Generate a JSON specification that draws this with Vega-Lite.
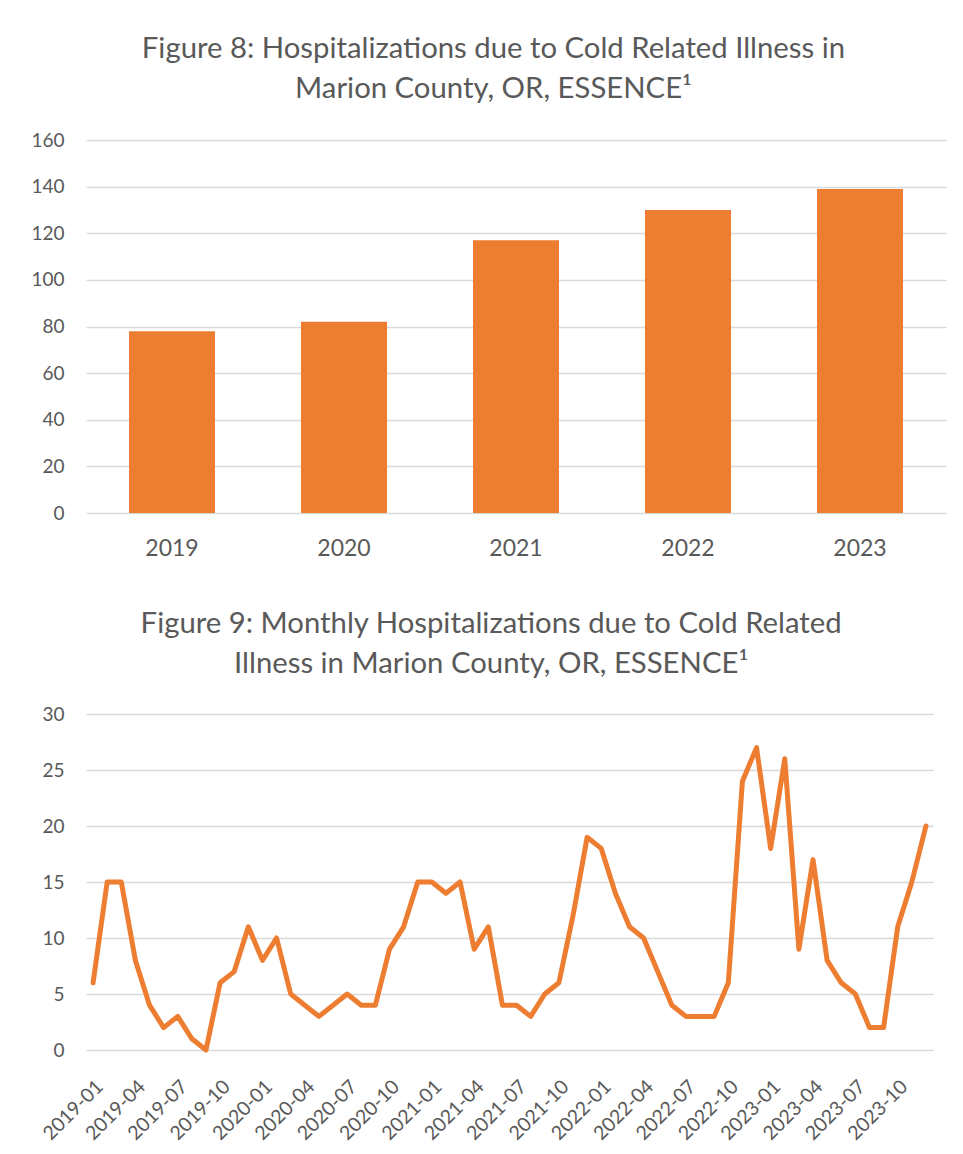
{
  "$schema": "https://vega.github.io/schema/vega-lite/v6.json",
  "padding": {"left": 30, "top": 34, "right": 16, "bottom": 2},
  "background": "white",
  "spacing": 49,
  "datasets": {
    "annual": [
      {"year": "2019", "count": 78},
      {"year": "2020", "count": 82},
      {"year": "2021", "count": 117},
      {"year": "2022", "count": 130},
      {"year": "2023", "count": 139}
    ],
    "monthly": [
      {"month": "2019-01", "count": 6}, {"month": "2019-02", "count": 15}, {"month": "2019-03", "count": 15},
      {"month": "2019-04", "count": 8}, {"month": "2019-05", "count": 4}, {"month": "2019-06", "count": 2},
      {"month": "2019-07", "count": 3}, {"month": "2019-08", "count": 1}, {"month": "2019-09", "count": 0},
      {"month": "2019-10", "count": 6}, {"month": "2019-11", "count": 7}, {"month": "2019-12", "count": 11},
      {"month": "2020-01", "count": 8}, {"month": "2020-02", "count": 10}, {"month": "2020-03", "count": 5},
      {"month": "2020-04", "count": 4}, {"month": "2020-05", "count": 3}, {"month": "2020-06", "count": 4},
      {"month": "2020-07", "count": 5}, {"month": "2020-08", "count": 4}, {"month": "2020-09", "count": 4},
      {"month": "2020-10", "count": 9}, {"month": "2020-11", "count": 11}, {"month": "2020-12", "count": 15},
      {"month": "2021-01", "count": 15}, {"month": "2021-02", "count": 14}, {"month": "2021-03", "count": 15},
      {"month": "2021-04", "count": 9}, {"month": "2021-05", "count": 11}, {"month": "2021-06", "count": 4},
      {"month": "2021-07", "count": 4}, {"month": "2021-08", "count": 3}, {"month": "2021-09", "count": 5},
      {"month": "2021-10", "count": 6}, {"month": "2021-11", "count": 12}, {"month": "2021-12", "count": 19},
      {"month": "2022-01", "count": 18}, {"month": "2022-02", "count": 14}, {"month": "2022-03", "count": 11},
      {"month": "2022-04", "count": 10}, {"month": "2022-05", "count": 7}, {"month": "2022-06", "count": 4},
      {"month": "2022-07", "count": 3}, {"month": "2022-08", "count": 3}, {"month": "2022-09", "count": 3},
      {"month": "2022-10", "count": 6}, {"month": "2022-11", "count": 24}, {"month": "2022-12", "count": 27},
      {"month": "2023-01", "count": 18}, {"month": "2023-02", "count": 26}, {"month": "2023-03", "count": 9},
      {"month": "2023-04", "count": 17}, {"month": "2023-05", "count": 8}, {"month": "2023-06", "count": 6},
      {"month": "2023-07", "count": 5}, {"month": "2023-08", "count": 2}, {"month": "2023-09", "count": 2},
      {"month": "2023-10", "count": 11}, {"month": "2023-11", "count": 15}, {"month": "2023-12", "count": 20}
    ]
  },
  "vconcat": [
    {
      "width": 860,
      "height": 373,
      "title": {
        "text": ["Figure 8: Hospitalizations due to Cold Related Illness in", "Marion County, OR, ESSENCE¹"],
        "frame": "bounds",
        "anchor": "middle",
        "dx": 5,
        "offset": 27
      },
      "data": {"name": "annual"},
      "mark": {"type": "bar", "color": "#ED7D31"},
      "encoding": {
        "x": {
          "field": "year", "type": "ordinal", "title": null,
          "scale": {"paddingInner": 0.5, "paddingOuter": 0.25},
          "axis": {"labelAngle": 0, "labelPadding": 24, "labelFontSize": 23}
        },
        "y": {
          "field": "count", "type": "quantitative", "title": null,
          "scale": {"domain": [0, 160]},
          "axis": {"values": [0, 20, 40, 60, 80, 100, 120, 140, 160], "labelPadding": 22}
        }
      }
    },
    {
      "width": 847,
      "height": 336,
      "title": {
        "text": ["Figure 9: Monthly Hospitalizations due to Cold Related", "Illness in Marion County, OR, ESSENCE¹"],
        "frame": "bounds",
        "anchor": "middle",
        "dx": 5,
        "offset": 26
      },
      "data": {"name": "monthly"},
      "mark": {"type": "line", "color": "#ED7D31", "strokeWidth": 5, "strokeJoin": "round", "strokeCap": "round"},
      "encoding": {
        "x": {
          "field": "month", "type": "ordinal", "title": null,
          "scale": {"type": "point", "padding": 0.5},
          "axis": {
            "values": ["2019-01", "2019-04", "2019-07", "2019-10", "2020-01", "2020-04", "2020-07", "2020-10", "2021-01", "2021-04", "2021-07", "2021-10", "2022-01", "2022-04", "2022-07", "2022-10", "2023-01", "2023-04", "2023-07", "2023-10"],
            "labelAngle": -45, "labelPadding": 27, "labelFontSize": 19.5
          }
        },
        "y": {
          "field": "count", "type": "quantitative", "title": null,
          "scale": {"domain": [0, 30]},
          "axis": {"values": [0, 5, 10, 15, 20, 25, 30], "labelPadding": 22}
        }
      }
    }
  ],
  "config": {
    "font": "Lato",
    "view": {"stroke": null},
    "title": {"font": "Lato", "fontSize": 29.3, "fontWeight": "normal", "color": "#595959", "lineHeight": 40},
    "axis": {
      "domain": false, "ticks": false,
      "grid": true, "gridColor": "#D9D9D9", "gridWidth": 1.5,
      "labelFont": "Lato", "labelColor": "#595959", "labelFontSize": 19
    },
    "axisX": {"grid": false}
  }
}
